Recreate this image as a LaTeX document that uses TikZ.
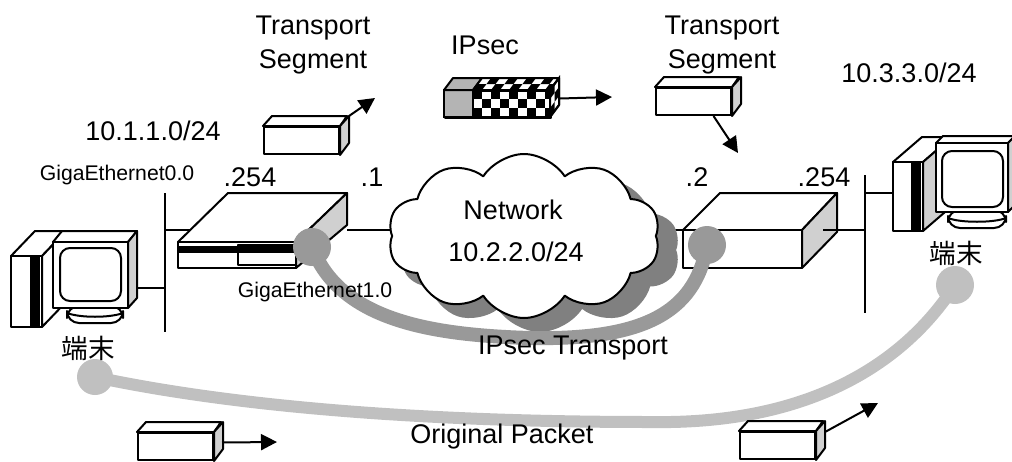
\documentclass[tikz,border=0pt]{standalone}
\usepackage{fontspec}
\setmainfont{Liberation Sans}
\newfontfamily\cjk{Noto Sans CJK JP}
\usetikzlibrary{arrows.meta,shapes.symbols}
\definecolor{Ink}{HTML}{000000}
\definecolor{SideGrey}{HTML}{D0D0D0}
\definecolor{Shell}{HTML}{B4B4B4}
\definecolor{CloudShade}{HTML}{808080}
\definecolor{TunnelGrey}{HTML}{999999}
\definecolor{PathGrey}{HTML}{C0C0C0}
\tikzset{
  link/.style={line width=1pt,draw=Ink},
  boxface/.style={line width=1pt,draw=Ink,fill=white,line join=round},
  sideface/.style={boxface,fill=SideGrey},
  pktfront/.style={boxface,minimum width=37.5pt,minimum height=13.5pt,inner sep=0pt,anchor=north west},
  pktarrow/.style={-{Triangle[length=8pt,width=8pt]},line width=1pt,draw=Ink},
  lbl/.style={inner sep=0pt,font=\fontsize{13.5}{17}\selectfont,align=center},
  portlbl/.style={inner sep=0pt,font=\fontsize{10.6}{13}\selectfont},
  cjklbl/.style={inner sep=0pt,font=\cjk\fontsize{13.3}{16}\selectfont},
  netcloud/.style={cloud,cloud puffs=10,cloud puff arc=115,aspect=1.65,minimum width=136pt,minimum height=82pt,inner sep=0pt},
  tunnel/.style={line width=7pt,draw=TunnelGrey},
  origpath/.style={line width=6pt,draw=PathGrey}
}
% packet box: #2 name, (#3,#4) top left corner of the front face
\newcommand{\pktbox}[4][white]{%
  \node[pktfront,fill=#1] (#2) at (#3,#4) {};
  \draw[boxface] (#2.north west) -- ++(9,-10) -- ++(75,0) -- (#2.north east) -- cycle;
  \draw[sideface] (#2.north east) -- ++(9,-10) coordinate (#2-top) -- ++(0,27) -- (#2.south east) -- cycle;
}

\begin{document}
\begin{tikzpicture}[x=0.5pt,y=-0.5pt]
  \useasboundingbox (0,0) rectangle (1012,461);

  % port coordinates
  \coordinate (busL-top) at (165,193);  \coordinate (busL-bot) at (165,332);
  \coordinate (busL-pc) at (165,288);   \coordinate (pcL-port) at (128,288);
  \coordinate (busL-rt) at (165,230);   \coordinate (rtL-in) at (190,230);
  \coordinate (rtL-out) at (347,230);   \coordinate (netL) at (400,230);
  \coordinate (netR) at (640,230);      \coordinate (rtR-in) at (683,230);
  \coordinate (rtR-out) at (823,230);   \coordinate (busR-rt) at (865,230);
  \coordinate (busR-top) at (865,175);  \coordinate (busR-bot) at (865,313);
  \coordinate (busR-pc) at (865,193);   \coordinate (pcR-port) at (893,193);

  % network cloud
  \draw[link] (rtL-out) -- (netL);
  \draw[link] (netR) -- (rtR-in);
  \node[netcloud,fill=CloudShade,minimum width=140pt] (netshade) at (540,250) {};
  \node[netcloud,boxface] (net) at (524,236) {};

  % left host
  \draw[link] (busL-top) -- (busL-bot);
  \draw[link] (pcL-port) -- (busL-pc);
  \draw[link] (busL-rt) -- (rtL-in);
  \draw[boxface] (11,256) -- (35,231) -- (66,231) -- (42,256) -- cycle;
  \draw[boxface] (42,256) -- (66,231) -- (66,302) -- (42,327) -- cycle;
  \draw[boxface] (11,256) rectangle (42,327);
  \fill[Ink] (30,256) rectangle (40,327);
  \draw[boxface,rounded corners=6pt] (67,306) rectangle (123,323);
  \draw[link] (67,313) .. controls (80,318) and (110,318) .. (123,313);
  \draw[boxface] (53,242) -- (62,231) -- (137,231) -- (128,242) -- cycle;
  \draw[sideface] (128,242) -- (137,231) -- (137,298) -- (128,308) -- cycle;
  \draw[boxface] (53,242) rectangle (128,308);
  \draw[boxface,rounded corners=5pt] (60,248) rectangle (121,301);

  % left router
  \draw[boxface] (178,242) -- (228,193) -- (347,193) -- (296,242) -- cycle;
  \draw[sideface] (296,242) -- (347,193) -- (347,225) -- (296,268) -- cycle;
  \draw[boxface] (178,242) rectangle (296,268);
  \draw[boxface] (238,245) rectangle (296,265);
  \fill[Ink] (178,246) rectangle (296,253);

  % right router
  \draw[boxface] (683,230) -- (720,193) -- (837,193) -- (802,230) -- cycle;
  \draw[sideface] (802,230) -- (837,193) -- (837,232) -- (802,268) -- cycle;
  \draw[boxface] (683,230) rectangle (802,268);
  \draw[link] (rtR-out) -- (busR-rt);

  % right host
  \draw[link] (busR-top) -- (busR-bot);
  \draw[link] (busR-pc) -- (pcR-port);
  \draw[boxface] (893,162) -- (922,137) -- (952,137) -- (923,162) -- cycle;
  \draw[sideface] (923,162) -- (952,137) -- (952,206) -- (923,231) -- cycle;
  \draw[boxface] (893,162) rectangle (923,231);
  \fill[Ink] (911,162) rectangle (921,231);
  \draw[boxface,rounded corners=6pt] (948,210) rectangle (1006,228);
  \draw[link] (948,218) .. controls (960,223) and (994,223) .. (1006,218);
  \draw[boxface] (936,143) -- (943,136) -- (1015,136) -- (1008,143) -- cycle;
  \draw[sideface] (1008,143) -- (1015,136) -- (1015,205) -- (1008,212) -- cycle;
  \draw[boxface] (936,143) rectangle (1008,212);
  \draw[boxface,rounded corners=5pt] (942,151) rectangle (1003,207);

  % tunnel and end-to-end path
  \coordinate (espA) at (312,247);  \coordinate (espB) at (707,245);
  \coordinate (origA) at (95,377);  \coordinate (origB) at (955,285);
  \draw[tunnel] (espA) .. controls (340,320) and (430,335) .. (530,338)
                       .. controls (640,340) and (695,315) .. (espB);
  \fill[TunnelGrey] (espA) circle [radius=9.5pt];
  \fill[TunnelGrey] (espB) circle [radius=9.5pt];
  \draw[origpath] (origA) .. controls (250,410) and (450,422) .. (650,422)
                        .. controls (820,425) and (910,355) .. (origB);
  \fill[PathGrey] (origA) circle [radius=9pt];
  \fill[PathGrey] (origB) circle [radius=9.5pt];

  % labels
  \node[lbl] (seg1lbl) at (313,45) {Transport\\Segment};
  \node[lbl] (esplbl) at (485,45) {IPsec};
  \node[lbl] (seg2lbl) at (722,45) {Transport\\Segment};
  \node[lbl] (lanL) at (153,131) {10.1.1.0/24};
  \node[lbl] (lanR) at (909,73) {10.3.3.0/24};
  \node[portlbl] (ge0) at (117,175) {GigaEthernet0.0};
  \node[portlbl] (ge1) at (315,292) {GigaEthernet1.0};
  \node[lbl] (ipL1) at (250,177) {.254};
  \node[lbl] (ipL2) at (372,177) {.1};
  \node[lbl] (ipR1) at (697,177) {.2};
  \node[lbl] (ipR2) at (824,177) {.254};
  \node[lbl] (netname) at (513,210) {Network};
  \node[lbl] (netaddr) at (516,252) {10.2.2.0/24};
  \node[cjklbl] (hostL) at (88,348) {端末};
  \node[cjklbl] (hostR) at (956,253) {端末};
  \node[lbl] (tunlbl) at (573,348) {IPsec Transport};
  \node[lbl] (origlbl) at (502,437) {Original Packet};

  % packets
  \pktbox{seg1}{263}{126}
  \coordinate (seg1tip) at (375,98);
  \draw[pktarrow] (seg1-top) -- (seg1tip);

  \pktbox{seg2}{655}{87}
  \coordinate (seg2tip) at (738,153);
  \draw[pktarrow] ([shift={(20,0)}]seg2.south) -- (seg2tip);

  \pktbox{pktL}{137}{432}
  \coordinate (pktLtip) at (277,442);
  \draw[pktarrow] ([shift={(8,-4)}]pktL.east) -- (pktLtip);

  \pktbox{pktR}{739}{431}
  \coordinate (pktRtip) at (878,403);
  \draw[pktarrow] ([shift={(9,1)}]pktR.north east) -- (pktRtip);

  % encrypted packet
  \node[boxface,minimum width=53pt,minimum height=13.5pt,inner sep=0pt,anchor=north west] (esp) at (444,90) {};
  \fill[Shell] (444,90) rectangle (473,117);
  \begin{scope}
    \clip (473,90) rectangle (550,117);
    \foreach \i in {0,...,8}{
      \foreach \j in {0,1,2}{
        \pgfmathtruncatemacro\odd{mod(\i+\j,2)}
        \ifnum\odd=0 \fill[Ink] (473+9*\i,90+9*\j) rectangle ++(9,9); \fi
      }
    }
  \end{scope}
  \draw[boxface,fill=Shell] (444,90) -- (453,78) -- (482,78) -- (473,90) -- cycle;
  \draw[boxface] (473,90) -- (482,78) -- (559,78) -- (550,90) -- cycle;
  \begin{scope}
    \clip (473,90) -- (482,78) -- (559,78) -- (550,90) -- cycle;
    \foreach \i in {0,...,9}{
      \foreach \j in {0,1}{
        \pgfmathtruncatemacro\odd{mod(\i+\j,2)}
        \ifnum\odd=0 \fill[Ink] (473+9*\i+4.5*\j,90-6*\j) -- ++(9,0) -- ++(4.5,-6) -- ++(-9,0) -- cycle; \fi
      }
    }
  \end{scope}
  \draw[sideface,fill=white] (550,90) -- (559,78) -- (559,105) -- (550,117) -- cycle;
  \foreach \r in {0,1,2}{
    \foreach \j in {0,1}{
      \pgfmathtruncatemacro\odd{mod(\r+\j,2)}
      \ifnum\odd=0 \fill[Ink] (550+4.5*\j,90-6*\j+9*\r) -- ++(4.5,-6) -- ++(0,9) -- ++(-4.5,6) -- cycle; \fi
    }
  }
  \draw[link] (473,90) -- (473,117);
  \draw[link] (444,90) rectangle (550,117);
  \draw[link] (550,90) -- (559,78) -- (559,105) -- (550,117);
  \coordinate (esptip) at (612,97);
  \draw[pktarrow] ([shift={(8,-6)}]esp.east) -- (esptip);
\end{tikzpicture}
\end{document}
